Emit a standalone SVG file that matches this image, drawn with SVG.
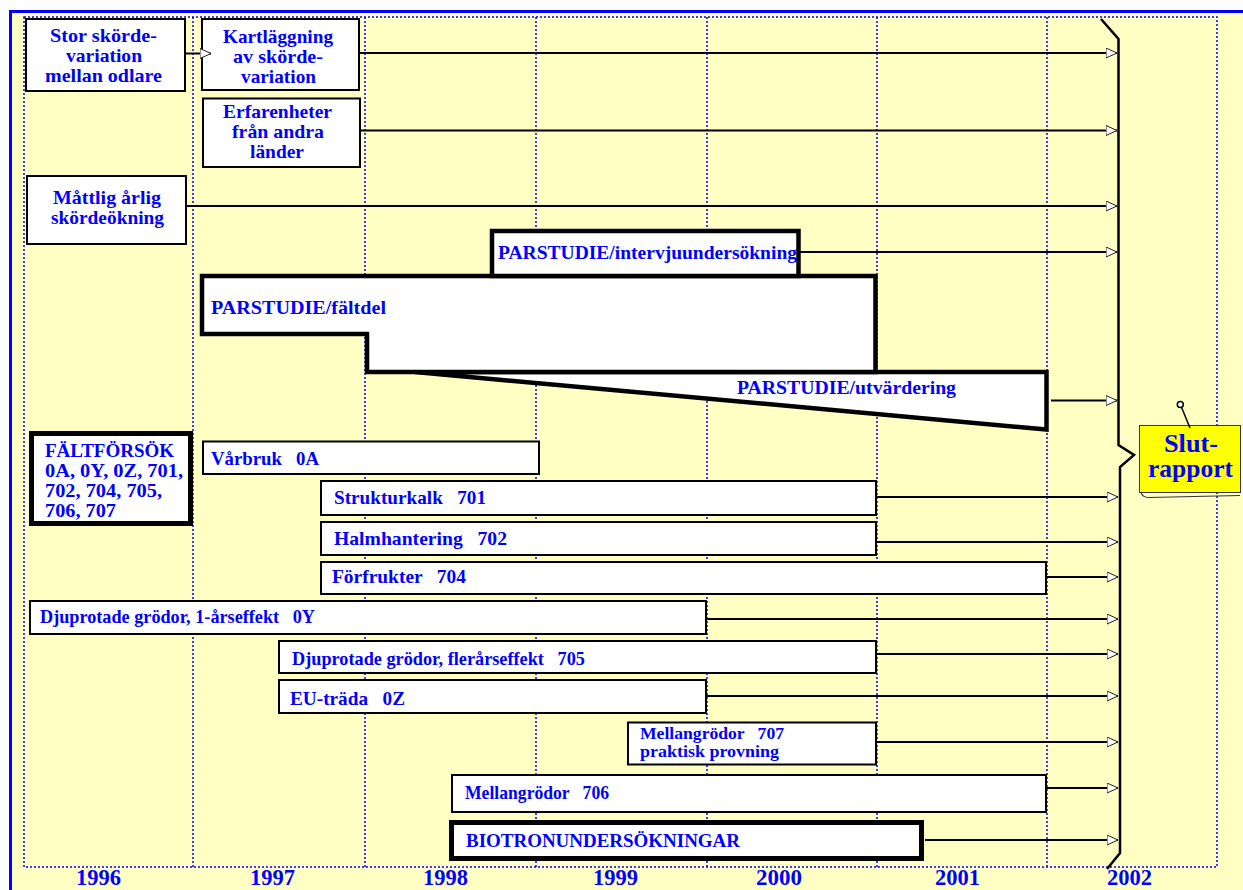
<svg xmlns="http://www.w3.org/2000/svg" width="1243" height="890" viewBox="0 0 1243 890" xml:space="preserve">
<style>
.t{font-family:"Liberation Serif","Times New Roman",serif;font-weight:bold;fill:#0000FF;font-size:19px;white-space:pre}
.s19{font-size:17.5px}
.yr{font-size:24px}
.sl{font-size:25px}
.box{fill:#FFFFFF;stroke:#000000;stroke-width:2}
.thick{fill:#FFFFFF;stroke:#000000;stroke-width:4.5;stroke-linejoin:miter}
.grid{fill:none;stroke:#0000FF;stroke-width:1.5;stroke-dasharray:2 2}
.conn{stroke:#000000;stroke-width:2;fill:none;marker-end:url(#arr)}
</style>
<defs>
<marker id="arr" viewBox="0 0 12 11" markerWidth="12" markerHeight="11" refX="11.5" refY="5.5" markerUnits="userSpaceOnUse" orient="auto">
<path d="M0.5,0.5 L11.5,5.5 L0.5,10.5 Z" fill="#FFFFFF" stroke="#222222" stroke-width="1"/>
</marker>
</defs>
<g id="background">
<rect x="0" y="0" width="1243" height="890" fill="#FFFFFF"/>
<rect x="12" y="13" width="1231" height="877" fill="#FFFFC4"/>
<line x1="10.5" y1="10" x2="10.5" y2="890" stroke="#0000FF" stroke-width="3"/>
<line x1="9" y1="11.5" x2="1243" y2="11.5" stroke="#0000FF" stroke-width="3"/>
</g>
<g id="grid">
<rect class="grid" x="24" y="17" width="1193" height="850"/>
<line class="grid" x1="193" y1="17" x2="193" y2="867"/>
<line class="grid" x1="365" y1="17" x2="365" y2="867"/>
<line class="grid" x1="536" y1="17" x2="536" y2="867"/>
<line class="grid" x1="707" y1="17" x2="707" y2="867"/>
<line class="grid" x1="877" y1="17" x2="877" y2="867"/>
<line class="grid" x1="1047" y1="17" x2="1047" y2="867"/>
</g>
<g id="years">
<text class="t yr" x="76" y="885" textLength="45" lengthAdjust="spacingAndGlyphs">1996</text>
<text class="t yr" x="250" y="885" textLength="45" lengthAdjust="spacingAndGlyphs">1997</text>
<text class="t yr" x="423" y="885" textLength="45" lengthAdjust="spacingAndGlyphs">1998</text>
<text class="t yr" x="593" y="885" textLength="45" lengthAdjust="spacingAndGlyphs">1999</text>
<text class="t yr" x="756" y="885" textLength="46" lengthAdjust="spacingAndGlyphs">2000</text>
<text class="t yr" x="935" y="885" textLength="45" lengthAdjust="spacingAndGlyphs">2001</text>
<text class="t yr" x="1107" y="885" textLength="45" lengthAdjust="spacingAndGlyphs">2002</text>
</g>
<g id="n-stor">
<rect class="box" x="26" y="19" width="159" height="72"/>
<text class="t" x="50" y="42" textLength="107" lengthAdjust="spacingAndGlyphs">Stor skörde-</text>
<text class="t" x="66" y="62" textLength="76" lengthAdjust="spacingAndGlyphs">variation</text>
<text class="t" x="45" y="82" textLength="117" lengthAdjust="spacingAndGlyphs">mellan odlare</text>
</g>
<g id="n-kart">
<rect class="box" x="202" y="19" width="157" height="71"/>
<text class="t" x="223" y="43" textLength="110" lengthAdjust="spacingAndGlyphs">Kartläggning</text>
<text class="t" x="233" y="63" textLength="90" lengthAdjust="spacingAndGlyphs">av skörde-</text>
<text class="t" x="241" y="83" textLength="75" lengthAdjust="spacingAndGlyphs">variation</text>
</g>
<g id="n-erf">
<rect class="box" x="203" y="98.5" width="157" height="68.5"/>
<text class="t" x="223" y="118" textLength="109" lengthAdjust="spacingAndGlyphs">Erfarenheter</text>
<text class="t" x="232" y="138" textLength="92" lengthAdjust="spacingAndGlyphs">från andra</text>
<text class="t" x="250" y="158" textLength="54" lengthAdjust="spacingAndGlyphs">länder</text>
</g>
<g id="n-mattlig">
<rect class="box" x="27" y="176" width="159" height="68"/>
<text class="t" x="53" y="204" textLength="108" lengthAdjust="spacingAndGlyphs">Måttlig årlig</text>
<text class="t" x="51" y="224" textLength="113" lengthAdjust="spacingAndGlyphs">skördeökning</text>
</g>
<g id="n-utvardering">
<polygon class="thick" points="415,372 1046.5,372 1046.5,429.5"/>
<text class="t" x="737" y="394" textLength="219" lengthAdjust="spacingAndGlyphs">PARSTUDIE/utvärdering</text>
</g>
<g id="n-faltdel">
<polygon class="thick" points="202,276 875.5,276 875.5,372 367,372 367,334 202,334"/>
<text class="t" x="211" y="314" textLength="175" lengthAdjust="spacingAndGlyphs">PARSTUDIE/fältdel</text>
</g>
<g id="n-intervju">
<rect class="thick" x="492" y="231" width="306.5" height="45"/>
<text class="t" x="498" y="259" textLength="299" lengthAdjust="spacingAndGlyphs">PARSTUDIE/intervjuundersökning</text>
</g>
<g id="n-faltforsok">
<rect class="thick" x="31.5" y="433.5" width="159" height="90" style="stroke-width:5"/>
<text class="t" x="45" y="457" textLength="129" lengthAdjust="spacingAndGlyphs">FÄLTFÖRSÖK</text>
<text class="t" x="45" y="477" textLength="138" lengthAdjust="spacingAndGlyphs">0A, 0Y, 0Z, 701,</text>
<text class="t" x="45" y="497" textLength="117" lengthAdjust="spacingAndGlyphs">702, 704, 705,</text>
<text class="t" x="45" y="517" textLength="71" lengthAdjust="spacingAndGlyphs">706, 707</text>
</g>
<g id="n-varbruk">
<rect class="box" x="203" y="441.5" width="336" height="32.5"/>
<text class="t" x="211" y="465" textLength="108" lengthAdjust="spacingAndGlyphs">Vårbruk   0A</text>
</g>
<g id="n-701">
<rect class="box" x="321" y="481" width="555" height="34"/>
<text class="t" x="334" y="504" textLength="152" lengthAdjust="spacingAndGlyphs">Strukturkalk   701</text>
</g>
<g id="n-702">
<rect class="box" x="321" y="522" width="555" height="33"/>
<text class="t" x="334" y="545" textLength="173" lengthAdjust="spacingAndGlyphs">Halmhantering   702</text>
</g>
<g id="n-704">
<rect class="box" x="321" y="562" width="725" height="32"/>
<text class="t" x="332" y="583" textLength="134" lengthAdjust="spacingAndGlyphs">Förfrukter   704</text>
</g>
<g id="n-0y">
<rect class="box" x="30" y="601" width="676" height="33"/>
<text class="t" x="40" y="623" textLength="275" lengthAdjust="spacingAndGlyphs">Djuprotade grödor, 1-årseffekt   0Y</text>
</g>
<g id="n-705">
<rect class="box" x="279" y="641" width="597" height="32"/>
<text class="t" x="292" y="665" textLength="293" lengthAdjust="spacingAndGlyphs">Djuprotade grödor, flerårseffekt   705</text>
</g>
<g id="n-0z">
<rect class="box" x="279" y="680" width="427" height="33"/>
<text class="t" x="290" y="705" textLength="115" lengthAdjust="spacingAndGlyphs">EU-träda   0Z</text>
</g>
<g id="n-707">
<rect class="box" x="628" y="722.5" width="248" height="42"/>
<text class="t s19" x="640" y="739" textLength="144" lengthAdjust="spacingAndGlyphs">Mellangrödor   707</text>
<text class="t s19" x="640" y="757" textLength="139" lengthAdjust="spacingAndGlyphs">praktisk provning</text>
</g>
<g id="n-706">
<rect class="box" x="452" y="775" width="594" height="37"/>
<text class="t" x="465" y="799" textLength="144" lengthAdjust="spacingAndGlyphs">Mellangrödor   706</text>
</g>
<g id="n-biotron">
<rect class="thick" x="451.5" y="822.5" width="470" height="36" style="stroke-width:5"/>
<text class="t" x="466" y="847" textLength="274" lengthAdjust="spacingAndGlyphs">BIOTRONUNDERSÖKNINGAR</text>
</g>
<g id="n-slutrapport">
<path d="M1141,492 Q1142,497.5 1149,497.5 L1240,495.5" fill="none" stroke="#333333" stroke-width="1.2"/>
<rect x="1139.5" y="425.5" width="101" height="67" fill="#FFFF00" stroke="#333333" stroke-width="1"/>
<line x1="1181" y1="406" x2="1190" y2="428" stroke="#000000" stroke-width="1.5"/>
<circle cx="1180.3" cy="404.5" r="3" fill="#FFFFFF" stroke="#000000" stroke-width="1.5"/>
<text class="t sl" x="1164" y="452" textLength="54" lengthAdjust="spacingAndGlyphs">Slut-</text>
<text class="t sl" x="1148" y="477" textLength="85" lengthAdjust="spacingAndGlyphs">rapport</text>
</g>
<g id="connectors">
<line class="conn" x1="186" y1="53.5" x2="211" y2="53.5"/>
<line class="conn" x1="359" y1="53" x2="1117" y2="53"/>
<line class="conn" x1="361" y1="130.5" x2="1117" y2="130.5"/>
<line class="conn" x1="187" y1="206" x2="1117" y2="206"/>
<line class="conn" x1="800" y1="252" x2="1117" y2="252"/>
<line class="conn" x1="1051" y1="400.5" x2="1117" y2="400.5"/>
<line class="conn" x1="877" y1="497" x2="1118" y2="497"/>
<line class="conn" x1="877" y1="542" x2="1118" y2="542"/>
<line class="conn" x1="1047" y1="577" x2="1118" y2="577"/>
<line class="conn" x1="707" y1="619" x2="1118" y2="619"/>
<line class="conn" x1="877" y1="654" x2="1118" y2="654"/>
<line class="conn" x1="707" y1="696" x2="1118" y2="696"/>
<line class="conn" x1="877" y1="742" x2="1118" y2="742"/>
<line class="conn" x1="1047" y1="788" x2="1118" y2="788"/>
<line class="conn" x1="925" y1="840" x2="1118" y2="840"/>
<polyline points="1101,19 1118.5,39 1118.5,445 1134,455 1120,467 1120,853 1107,869" fill="none" stroke="#000000" stroke-width="2.5" stroke-linejoin="miter"/>
</g>
</svg>
